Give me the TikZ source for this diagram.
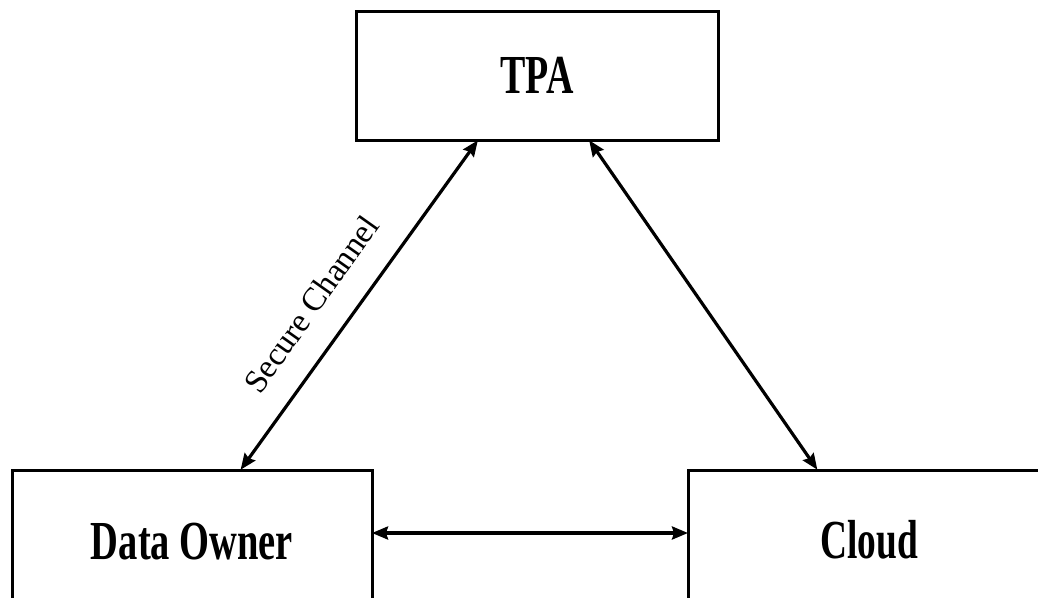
\documentclass[tikz,border=0pt]{standalone}
\usepackage{fontspec}
\setmainfont{Liberation Serif}
\usetikzlibrary{arrows.meta}
\begin{document}
\begin{tikzpicture}[x=1pt,y=-1pt,
  box/.style={draw, line width=3pt, rectangle, inner sep=0pt},
  lbl/.style={font=\fontsize{55}{60}\selectfont\bfseries},
  link/.style={line width=3.2pt, {Stealth[length=16pt,width=13pt,inset=2pt]}-{Stealth[length=16pt,width=13pt,inset=2pt]}, shorten <=-1.5pt, shorten >=-1.5pt}]
\useasboundingbox (0,0) rectangle (1038,597);
\clip (0,0) rectangle (1038,597);
\node[box, minimum width=362pt, minimum height=129pt, lbl] (tpa) at (537,75.5) {\scalebox{0.69}[1]{TPA}};
\node[box, minimum width=360pt, minimum height=144pt, lbl] (owner) at (192,542) {\scalebox{0.7}[1]{Data Owner}};
\node[box, minimum width=362pt, minimum height=140pt, lbl] (cloud) at (869,540) {\scalebox{0.68}[1]{Cloud}};
\coordinate (h) at (0,533);
\draw[link] ([xshift=-60pt]tpa.south) -- ([xshift=231pt]owner.north west);
\draw[link] ([xshift=53pt]tpa.south) -- ([xshift=130pt]cloud.north west);
\draw[link] (owner.east |- h) -- (cloud.west |- h);
\node[rotate=54.7, font=\fontsize{33}{38}\selectfont] (sc) at (311,304) {Secure Channel};
\end{tikzpicture}
\end{document}
